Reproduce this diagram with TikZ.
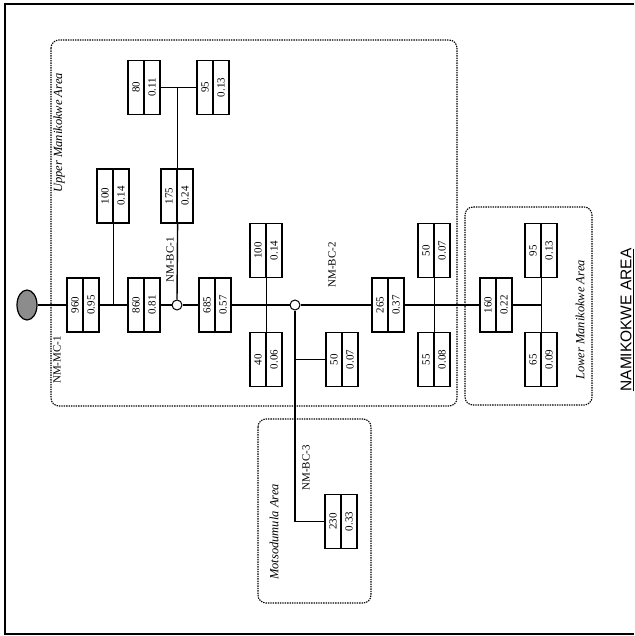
\documentclass[tikz,border=0pt]{standalone}
\usepackage{fontspec}
\setmainfont{Liberation Serif}
\newfontfamily\titlefont{Liberation Sans}
\usepackage{graphicx}
\usetikzlibrary{shapes.geometric}
\newcommand\valbox[5]{%
  \node[cell] (#1a) at (#2+8,#3) {\rotatebox{90}{#4}};
  \node[cell] (#1b) at (#2+24,#3) {\rotatebox{90}{#5}};
}
\begin{document}
\begin{tikzpicture}[x=1pt,y=-1pt,
  cell/.style={draw, line width=1.2pt, minimum width=16pt, minimum height=54pt, inner sep=0pt, font=\fontsize{11}{11}\selectfont},
  wire/.style={line width=1.4pt},
  thinwire/.style={line width=0.8pt},
  area/.style={line width=1.1pt, dash pattern=on 1.4pt off 1pt, rounded corners=8pt},
  arealabel/.style={rotate=90, inner sep=0pt, font=\fontsize{12.5}{13}\selectfont\itshape},
  idlabel/.style={rotate=90, inner sep=0pt, font=\fontsize{11}{11}\selectfont},
  junc/.style={circle, draw, fill=white, line width=1pt, minimum size=10pt, inner sep=0pt}
]
\useasboundingbox (0,0) rectangle (634,636);
% frame
\draw[line width=1.3pt] (634,4) -- (5,4) -- (5,634) -- (634,634);
% areas
\draw[area] (51,40) rectangle (457,406);
\draw[area] (465,207) rectangle (592,405);
\draw[area] (258,419) rectangle (371,603);
% boxes
\valbox{b1}{67}{305}{960}{0.95}
\valbox{b2}{128}{305}{860}{0.81}
\valbox{b3}{199}{305}{685}{0.57}
\valbox{b4}{372}{305}{265}{0.37}
\valbox{b5}{480}{305}{160}{0.22}
\valbox{b6}{97}{196}{100}{0.14}
\valbox{b7}{161}{196}{175}{0.24}
\valbox{b8}{128}{87.5}{80}{0.11}
\valbox{b9}{197}{87.5}{95}{0.13}
\valbox{b10}{250}{250.5}{100}{0.14}
\valbox{b11}{250}{359.5}{40}{0.06}
\valbox{b12}{326}{359.5}{50}{0.07}
\valbox{b13}{325}{521.5}{230}{0.33}
\valbox{b14}{418}{250.5}{50}{0.07}
\valbox{b15}{418}{359.5}{55}{0.08}
\valbox{b16}{525}{250.5}{95}{0.13}
\valbox{b17}{525}{359.5}{65}{0.09}
% source and junctions
\node[ellipse, draw, line width=1.2pt, fill=black!45, minimum width=20pt, minimum height=30pt, inner sep=0pt] (src) at (27,305) {};
\node[junc] (c1) at (177,305) {};
\node[junc] (c2) at (295,305) {};
% trunk
\draw[wire] (src.east) -- (b1a.west);
\draw[wire] (b1b.east) -- (b2a.west);
\draw[wire] (b2b.east) -- (c1.west);
\draw[wire] (c1.east) -- (b3a.west);
\draw[wire] (b3b.east) -- (c2.west);
\draw[wire] (c2.east) -- (b4a.west);
\draw[wire] (b4b.east) -- (b5a.west);
\draw[wire] (b5b.east) -- (b5b.east -| b16a.south east);
% branches
\draw[wire] (b6a.south east) -- (b6a.south east |- b1b.east);
\draw[wire] (c1.north) -- (b7a.south east);
\draw[wire] (b7a.north east) -- (b7a.north east |- b8b.east);
\draw[thinwire] (b8b.east) -- (b9a.west);
\draw[wire] (b10a.south east) -- (b11a.north east);
\draw[wire] (c2.south) |- (b13a.west);
\draw[wire] (c2.south |- b12a.west) -- (b12a.west);
\draw[wire] (b14a.south east) -- (b15a.north east);
\draw[wire] (b16a.south east) -- (b17a.north east);
% labels
\node[idlabel] (lmc1) at (57,360) {NM-MC-1};
\node[idlabel] (lbc1) at (170,260) {NM-BC-1};
\node[idlabel] (lbc2) at (332,265) {NM-BC-2};
\node[idlabel] (lbc3) at (306,468) {NM-BC-3};
\node[arealabel] (lup) at (59,133) {Upper Manikokwe Area};
\node[arealabel] (llo) at (580,320) {Lower Manikokwe Area};
\node[arealabel] (lmo) at (274,532) {Motsodumula Area};
\node[rotate=90, inner sep=0pt, font=\titlefont\fontsize{15.5}{16}\selectfont] (title) at (627,320) {\underline{NAMIKOKWE AREA}};
\end{tikzpicture}
\end{document}
